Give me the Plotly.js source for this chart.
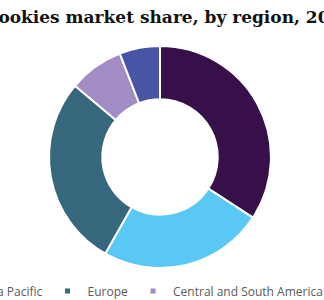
<!DOCTYPE html>
<html>
<head>
<meta charset="utf-8">
<script src="https://cdn.plot.ly/plotly-3.0.1.min.js"></script>
<style>
  html, body { margin: 0; padding: 0; width: 324px; height: 300px; overflow: hidden; background: #fff; }
  #wrap { position: absolute; left: -250px; top: 0; width: 820px; height: 320px; }
  #chart { width: 820px; height: 320px; }
  #chart .legendpie { transform: translate(20px, 0px) scale(0.5) !important; }
</style>
</head>
<body>
<div id="wrap"><div id="chart"></div></div>
<script>
const regions = ["North America", "Asia Pacific", "Europe", "Central and South America", "Middle East and Africa"];
const shares = [34.2, 24.0, 27.9, 8.0, 5.9];
const colors = ["#371049", "#5ac8f5", "#37677c", "#a18dc3", "#4855a5"];
const chartTitle = "Cookies market share, by region, 2021";

const data = [{
  type: "pie",
  labels: regions,
  values: shares,
  sort: false,
  direction: "clockwise",
  rotation: 0,
  hole: 0.52,
  marker: { colors: colors, line: { color: "#ffffff", width: 2 } },
  textinfo: "none",
  hoverinfo: "label+percent",
  domain: { x: [0, 1], y: [0.1625, 0.856] }
}];

const layout = {
  width: 820,
  height: 320,
  margin: { l: 0, r: 0, t: 0, b: 0 },
  paper_bgcolor: "#ffffff",
  title: {
    text: "<b>" + chartTitle + "</b>",
    font: { family: "DejaVu Serif", size: 17, color: "#111111" },
    x: 0.5 + 9 / 820, xanchor: "center", y: 1 - 17 / 320, yanchor: "middle"
  },
  showlegend: true,
  legend: {
    orientation: "h",
    x: 0.5 - 4 / 820, xanchor: "center",
    y: 29 / 320, yanchor: "middle",
    font: { family: "Open Sans", size: 12, color: "#595959" },
    traceorder: "normal"
  }
};

Plotly.newPlot("chart", data, layout, { displayModeBar: false, staticPlot: true });
</script>
</body>
</html>
